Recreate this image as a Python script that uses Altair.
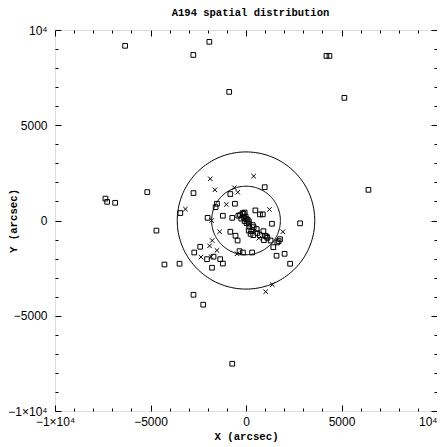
import altair as alt
import pandas as pd

# ---- data ----
sq_x = [-6330, -1920, -2760, -880, 4210, 4370, 5150, 6410, -7360, -7270, -6850, -5170,
        -4690, -4270, -2750, -2240, -720, -2750, -3440, 980, -820, -580, -1520, -1590,
        -2010, -1210, -720, 490, 730, 880, 1360, 2830, -820, -550, -440, -2400, -2710,
        -2040, -1700, -1350, -1210, -1780, -3480, -340, -160, 320, 910, 1010, 1080, 1120,
        940, 1290, 1780, 1710, 1640, 1430, 1600, 2020, 2310, -310, -180, -70, -250, -100,
        30, -70, 30, 140, 170, 140, 240, 380, 590, 730, 350, 280, 560, 400, -400, -130,
        -20, 80, 150]
sq_y = [9170, 9380, 8690, 6750, 8640, 8640, 6440, 1610, 1150, 980, 930, 1490,
        -530, -2310, -3900, -4420, -7520, 1440, 390, 1750, 1390, 880, 880, 700,
        140, 250, 140, 530, 320, 320, -170, -150, -590, -800, -1050, -1380, -1680,
        -2030, -1900, -2030, -2260, -2480, -2270, -1610, -1680, -1680, -560, -800, -840, -910,
        -1030, -1050, -980, -1080, -1150, -1400, -1850, -1750, -2270, 280, 390, 420, 100, 140,
        70, -30, -140, -170, -320, -530, -700, -770, -660, -770, -240, -560, -450, -350, 250, 350,
        210, 40, -50]

cr_x = [-1870, 400, -1630, -610, -430, -3170, -1030, 1230, -1800, -1380, 670, 1930,
        -1770, -1910, -1520, -2360, -1830, -470, 1380, 1030]
cr_y = [2190, 2330, 1610, 1720, 1480, 600, 840, 580, 0, -590, -930, -590,
        -1050, -1330, -1570, -1920, -1900, -1750, -3370, -3740]

radii = [1800, 3600]

tick_values = [-10000, -5000, 0, 5000, 10000]
tick_labels = ["\u22121\u00d710\u2074", "\u22125000", "0", "5000", "10\u2074"]
minor_values = [-10000, -9000, -8000, -7000, -6000, -5000, -4000, -3000, -2000, -1000, 0,
                1000, 2000, 3000, 4000, 5000, 6000, 7000, 8000, 9000, 10000]

chart_title = "A194 spatial distribution"
x_title = "X (arcsec)"
y_title = "Y (arcsec)"

# ---- layout ----
W, H = 382, 381
DOM = [-10000, 10000]
MONO = "Liberation Mono"
SANS = "Liberation Sans"

label_expr = " : ".join(
    f"datum.value == {v} ? '{l}'" for v, l in zip(tick_values, tick_labels)
) + " : datum.label"

tick_size = {"condition": {"test": "datum.value % 5000 === 0", "value": 6}, "value": 3}

xscale = alt.Scale(domain=DOM, nice=False, zero=False)
yscale = alt.Scale(domain=DOM, nice=False, zero=False)


def tick_axis(orient, offset, **kw):
    opts = dict(orient=orient, offset=offset, values=minor_values, labels=False,
                domain=False, grid=False, ticks=True, tickSize=tick_size,
                tickColor="black", tickWidth=1, title=" ")
    opts.update(kw)
    return alt.Axis(**opts)


x_lab_axis = alt.Axis(orient="bottom", values=tick_values, labelExpr=label_expr,
                      ticks=False, tickSize=0, domain=False, grid=False,
                      labelFont=SANS, labelFontSize=12, labelColor="black",
                      labelPadding=5, labelFlush=False, labelOverlap=False,
                      labelAlign={"condition": {"test": f"datum.value == {DOM[1]}",
                                                "value": "right"}, "value": "center"},
                      title=x_title, titleFont=MONO, titleFontSize=10.7,
                      titleFontWeight="bold", titleColor="black",
                      titleX=W / 2, titleY=25.5, titleBaseline="middle", titleAlign="center")
y_lab_axis = alt.Axis(orient="left", values=tick_values, labelExpr=label_expr,
                      ticks=False, tickSize=0, domain=False, grid=False,
                      labelFont=SANS, labelFontSize=12, labelColor="black",
                      labelPadding=8, labelFlush=False, labelOverlap=False,
                      title=y_title, titleFont=MONO, titleFontSize=10.7,
                      titleFontWeight="bold", titleColor="black",
                      titleX=-42, titleY=H / 2, titleAngle=-90,
                      titleBaseline="middle", titleAlign="center")

# circles (radii from data, points produced by Vega-Lite transforms)
circles = alt.Chart(alt.sequence(0, 362, 2, as_="deg")).transform_calculate(
    r_in=str(radii[0]), r_out=str(radii[1])
).transform_fold(["r_in", "r_out"], as_=["ring", "r"]).transform_calculate(
    cx="datum.r * cos(datum.deg * PI / 180)",
    cy="datum.r * sin(datum.deg * PI / 180)",
).mark_line(color="black", strokeWidth=1).encode(
    x=alt.X("cx:Q", scale=xscale, axis=x_lab_axis),
    y=alt.Y("cy:Q", scale=yscale, axis=y_lab_axis),
    detail="ring:N",
    order="deg:Q",
)

sq_df = pd.DataFrame({"cx": sq_x, "cy": sq_y})
cr_df = pd.DataFrame({"cx": cr_x, "cy": cr_y})

squares = alt.Chart(sq_df).mark_point(
    shape="square", filled=False, size=22, color="black", strokeWidth=1, opacity=1
).encode(
    x=alt.X("cx:Q", scale=xscale, axis=tick_axis("top", -H)),
    y=alt.Y("cy:Q", scale=yscale, axis=tick_axis("right", -W)),
)

# the top-edge tick axis also carries the chart title at an explicit position
crosses = alt.Chart(cr_df).mark_point(
    shape="M-1,-1L1,1M-1,1L1,-1", filled=False, size=20, color="black",
    strokeWidth=1, opacity=1
).encode(
    x=alt.X("cx:Q", scale=xscale,
            axis=tick_axis("bottom", -H, title=chart_title, titleFont=MONO,
                           titleFontSize=10.5, titleFontWeight="bold",
                           titleColor="black", titleX=W / 2 + 4, titleY=-18,
                           titleBaseline="middle", titleAlign="center")),
    y=alt.Y("cy:Q", scale=yscale, axis=tick_axis("left", -W)),
)

chart = alt.layer(circles, squares, crosses).resolve_axis(
    x="independent", y="independent"
).properties(
    width=W, height=H,
    autosize=alt.AutoSizeParams(type="none"),
    padding={"left": 47, "top": 22, "right": 0, "bottom": 33},
).configure_view(stroke="black", strokeWidth=1).configure(background="white")

chart.save("out.html", embed_options={"renderer": "svg", "actions": False})
